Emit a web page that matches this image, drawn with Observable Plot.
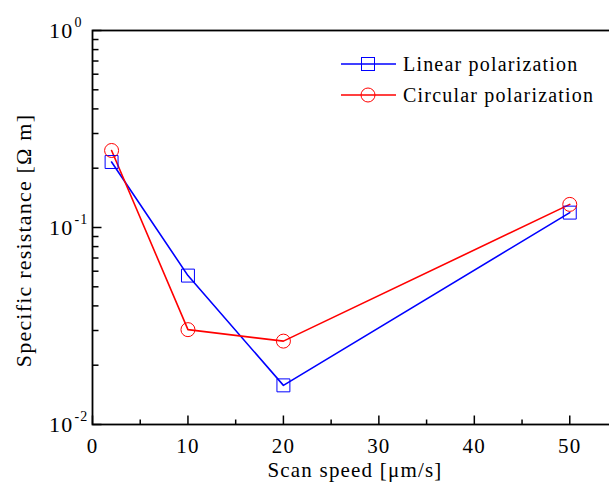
<!DOCTYPE html>
<html>
<head>
<meta charset="utf-8">
<script src="https://cdn.jsdelivr.net/npm/d3@7"></script>
<script src="https://cdn.jsdelivr.net/npm/@observablehq/plot@0.6"></script>
<style>
  html, body { margin: 0; padding: 0; background: #fff; overflow: hidden; }
  #wrap { position: relative; width: 609px; height: 487px; overflow: hidden; }
  #legend { position: absolute; left: 0; top: 0; }
  #wrap svg text { font-family: "Liberation Serif", "Times New Roman", serif; letter-spacing: 1.2px; }
</style>
</head>
<body>
<div id="wrap"></div>
<script>
const speeds = [2, 10, 20, 50];
const linearPol = [0.215, 0.057, 0.0158, 0.119];
const circularPol = [0.246, 0.0303, 0.0265, 0.131];
const seriesNames = ["Linear polarization", "Circular polarization"];
const seriesColors = ["#0000ff", "#ff0000"];
const xMajor = [0, 10, 20, 30, 40, 50];
const xMinor = [5, 15, 25, 35, 45];
const yMajor = [0.01, 0.1, 1];
const yMajorLabels = ["-2", "-1", "0"];
const yMinor = [2,3,4,5,6,7,8,9].flatMap(m => [m * 0.01, m * 0.1]);
const xLabel = "Scan speed [\u03bcm/s]";
const yLabel = "Specific resistance [\u03a9 m]";

const font = "Liberation Serif";

const rows = [
  ...speeds.map((s, i) => ({speed: s, value: linearPol[i], series: seriesNames[0]})),
  ...speeds.map((s, i) => ({speed: s, value: circularPol[i], series: seriesNames[1]}))
];
const lin = rows.filter(d => d.series === seriesNames[0]);
const cir = rows.filter(d => d.series === seriesNames[1]);

const tickUp = L => ({draw(ctx) { ctx.moveTo(0, 0); ctx.lineTo(0, -L); }});
const tickRight = L => ({draw(ctx) { ctx.moveTo(0, 0); ctx.lineTo(L, 0); }});

const chart = Plot.plot({
  width: 609,
  height: 487,
  marginLeft: 92,
  marginRight: -8,
  marginTop: 30,
  marginBottom: 63,
  style: {background: "#fff", fontFamily: font},
  x: {domain: [0, 55], axis: null},
  y: {type: "log", domain: [0.01, 1], axis: null},
  marks: [
    Plot.line(lin, {x: "speed", y: "value", stroke: seriesColors[0], strokeWidth: 1.6}),
    Plot.line(cir, {x: "speed", y: "value", stroke: seriesColors[1], strokeWidth: 1.6}),
    Plot.dot(lin, {x: "speed", y: "value", symbol: "square", r: 7.3, stroke: seriesColors[0], strokeWidth: 1, fill: "none"}),
    Plot.dot(cir, {x: "speed", y: "value", symbol: "circle", r: 7, stroke: seriesColors[1], strokeWidth: 1, fill: "none"}),
    Plot.frame({stroke: "#000", strokeWidth: 1.8}),
    Plot.dot(xMajor, {x: d => d, frameAnchor: "bottom", symbol: tickUp(9), stroke: "#000", strokeWidth: 1.5, fill: "none"}),
    Plot.dot(xMinor, {x: d => d, frameAnchor: "bottom", symbol: tickUp(5), stroke: "#000", strokeWidth: 1.5, fill: "none"}),
    Plot.dot(yMajor, {y: d => d, frameAnchor: "left", symbol: tickRight(9), stroke: "#000", strokeWidth: 1.5, fill: "none"}),
    Plot.dot(yMinor, {y: d => d, frameAnchor: "left", symbol: tickRight(6), stroke: "#000", strokeWidth: 1.5, fill: "none"}),
    Plot.text(xMajor, {x: d => d, frameAnchor: "bottom", dy: 22, text: d => String(d), textAnchor: "middle", fontSize: 21, fill: "#000", lineAnchor: "middle"}),
    Plot.text(yMajor, {y: d => d, frameAnchor: "left", dx: -19, text: () => "10", textAnchor: "end", fontSize: 22, fill: "#000", lineAnchor: "middle"}),
    Plot.text(yMajor, {y: d => d, frameAnchor: "left", dx: -18, dy: -8, text: (d, i) => yMajorLabels[i], textAnchor: "start", fontSize: 14, fill: "#000", lineAnchor: "middle"}),
    Plot.text([xLabel], {frameAnchor: "bottom", dy: 46, text: d => d, textAnchor: "middle", fontSize: 21, fill: "#000", lineAnchor: "middle"}),
    Plot.text([yLabel], {frameAnchor: "left", dx: -69, dy: 13, rotate: -90, text: d => d, textAnchor: "middle", fontSize: 22, fill: "#000", lineAnchor: "middle"})
  ]
});

const wrap = document.getElementById("wrap");
wrap.appendChild(chart);

// legend overlay
const lg = d3.select(wrap).append("svg").attr("id", "legend")
  .attr("width", 609).attr("height", 487);
const legendRows = [
  {name: seriesNames[0], color: seriesColors[0], sym: "square", y: 64},
  {name: seriesNames[1], color: seriesColors[1], sym: "circle", y: 95}
];
legendRows.forEach(r => {
  const g = lg.append("g");
  g.append("line").attr("x1", 341).attr("x2", 396).attr("y1", r.y).attr("y2", r.y)
    .attr("stroke", r.color).attr("stroke-width", 1.6);
  if (r.sym === "square") {
    g.append("rect").attr("x", 368 - 6.5).attr("y", r.y - 6.5).attr("width", 13).attr("height", 13)
      .attr("fill", "none").attr("stroke", r.color).attr("stroke-width", 1);
  } else {
    g.append("circle").attr("cx", 368).attr("cy", r.y).attr("r", 7)
      .attr("fill", "none").attr("stroke", r.color).attr("stroke-width", 1);
  }
  g.append("text").attr("x", 403).attr("y", r.y).attr("dy", "0.35em")
    .attr("font-family", font).attr("font-size", 20).attr("fill", "#000").text(r.name);
});
</script>
</body>
</html>
